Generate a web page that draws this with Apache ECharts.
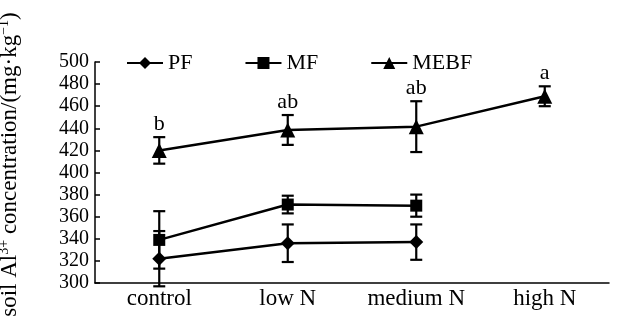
<!DOCTYPE html>
<html>
<head>
<meta charset="utf-8">
<script src="https://cdn.jsdelivr.net/npm/echarts@6/dist/echarts.min.js"></script>
<style>
  html, body { margin: 0; padding: 0; background: #fff; }
  #chart { width: 619px; height: 320px; }
</style>
</head>
<body>
<div id="chart"></div>
<script>
const categories = ['control', 'low N', 'medium N', 'high N']
const yTicks = [300, 500, 20]

const pfValues = [322, 336, 337]
const pfErr = [25, 17, 16]
const mfValues = [339, 371, 370]
const mfErr = [26, 8, 10]
const mebfValues = [420, 438.5, 441.5, 469]
const mebfErr = [12, 13.5, 23, 9]
const mebfLetters = ['b', 'ab', 'ab', 'a']

const font = 'Liberation Serif'

function errData(values, errs) {
  return values.map((v, i) => [i, v - errs[i], v + errs[i]])
}

function errSeries(values, errs, letters) {
  return {
    type: 'custom',
    z: 1,
    silent: true,
    renderItem(params, api) {
      const lo = api.coord([api.value(0), api.value(1)])
      const hi = api.coord([api.value(0), api.value(2)])
      const w = 6
      const style = { stroke: '#000', lineWidth: 2.2 }
      const children = [
        { type: 'line', shape: { x1: lo[0], y1: lo[1], x2: hi[0], y2: hi[1] }, style },
        { type: 'line', shape: { x1: hi[0] - w, y1: hi[1], x2: hi[0] + w, y2: hi[1] }, style },
        { type: 'line', shape: { x1: lo[0] - w, y1: lo[1], x2: lo[0] + w, y2: lo[1] }, style }
      ]
      if (letters) {
        children.push({
          type: 'text',
          x: hi[0],
          y: hi[1] - 2,
          style: {
            text: letters[params.dataIndex],
            fill: '#000',
            font: '22px "' + font + '"',
            align: 'center',
            verticalAlign: 'bottom'
          }
        })
      }
      return { type: 'group', children }
    },
    data: errData(values, errs)
  }
}

function lineSeries(name, values, symbol, size) {
  return {
    name,
    type: 'line',
    z: 3,
    data: values,
    symbol,
    symbolSize: size,
    showAllSymbol: true,
    lineStyle: { color: '#000', width: 2.5 },
    itemStyle: { color: '#000', borderWidth: 0 },
    emphasis: { disabled: true }
  }
}

const chart = echarts.init(document.getElementById('chart'))
chart.setOption({
  animation: false,
  backgroundColor: '#fff',
  textStyle: { fontFamily: font, color: '#000' },
  grid: { left: 95, right: 10, top: 62, bottom: 37, outerBoundsMode: 'none', containLabel: false },
  legend: {
    left: 121,
    top: 47,
    itemWidth: 36,
    itemHeight: 15,
    itemGap: 52,
    textStyle: { fontFamily: font, fontSize: 22, color: '#000' },
    data: ['PF', 'MF', 'MEBF']
  },
  xAxis: {
    type: 'category',
    data: categories,
    boundaryGap: true,
    axisLine: { lineStyle: { color: '#000', width: 1.5 } },
    axisTick: { inside: true, length: 5, lineStyle: { color: '#000', width: 1.5 } },
    axisLabel: { fontFamily: font, fontSize: 23, color: '#000', margin: 4 }
  },
  yAxis: {
    type: 'value',
    min: yTicks[0],
    max: yTicks[1],
    interval: yTicks[2],
    name: 'soil Al{sup|3+} concentration/(mg·kg{sup|−1})',
    nameLocation: 'middle',
    nameRotate: 90,
    nameGap: 73,
    nameTextStyle: {
      fontFamily: font,
      fontSize: 23,
      color: '#000',
      padding: [0, 0, 0, 16],
      rich: {
        sup: { fontFamily: font, fontSize: 14, color: '#000', verticalAlign: 'top', padding: [0, 0, 11, 0] }
      }
    },
    splitLine: { show: false },
    axisLine: { show: true, lineStyle: { color: '#000', width: 1.5 } },
    axisTick: { show: true, inside: true, length: 5, lineStyle: { color: '#000', width: 1.5 } },
    axisLabel: { fontFamily: font, fontSize: 20, color: '#000', margin: 6 }
  },
  series: [
    lineSeries('PF', pfValues, 'diamond', 14),
    lineSeries('MF', mfValues, 'rect', 12),
    lineSeries('MEBF', mebfValues, 'triangle', 15),
    errSeries(pfValues, pfErr),
    errSeries(mfValues, mfErr),
    errSeries(mebfValues, mebfErr, mebfLetters)
  ]
})
</script>
</body>
</html>
